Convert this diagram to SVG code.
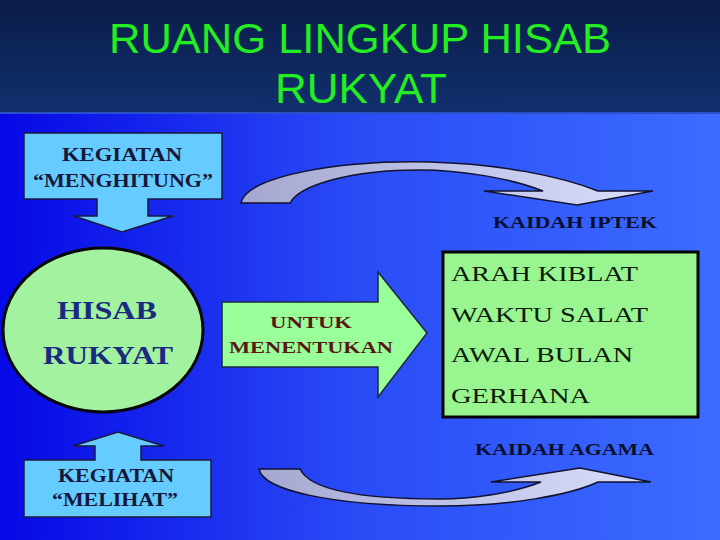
<svg xmlns="http://www.w3.org/2000/svg" width="720" height="540" viewBox="0 0 720 540">
<defs>
<linearGradient id="bg" x1="0" y1="0" x2="1" y2="0">
<stop offset="0" stop-color="#0608e6"/>
<stop offset="0.5" stop-color="#2a4cf6"/>
<stop offset="1" stop-color="#3c6cff"/>
</linearGradient>
<linearGradient id="head" x1="0" y1="0" x2="0" y2="1">
<stop offset="0" stop-color="#0b1c48"/>
<stop offset="1" stop-color="#11306e"/>
</linearGradient>
<linearGradient id="curve" x1="0" y1="0" x2="1" y2="0">
<stop offset="0" stop-color="#a4a8d0"/>
<stop offset="1" stop-color="#dadefc"/>
</linearGradient>
<style>
.lbl{font-family:"Liberation Serif","Times New Roman",serif;font-weight:bold;}
.box{fill:#66ccff;stroke:#1a1a40;stroke-width:1.5;}
.navy{fill:#16183a;}
.list{font-family:"Liberation Serif","Times New Roman",serif;font-size:22px;fill:#0c1a0c;}
.curve{fill:url(#curve);stroke:#10122e;stroke-width:1.5;}
</style>
</defs>
<rect x="0" y="0" width="720" height="540" fill="url(#bg)"/>
<rect x="0" y="0" width="720" height="112" fill="url(#head)"/>
<rect x="0" y="112" width="720" height="2" fill="#2a50c8"/>
<g id="title" font-family="'Liberation Sans',Arial,sans-serif" font-size="42" fill="#22ee22">
<text x="109" y="53" textLength="502" lengthAdjust="spacingAndGlyphs">RUANG LINGKUP HISAB</text>
<text x="275" y="103" textLength="172" lengthAdjust="spacingAndGlyphs">RUKYAT</text>
</g>
<g id="connectors">
<path class="curve" d="M241,203 C246,176 340,160 430,162 C500,164 560,176 598,191 L653,191 L577,205 L484,191 L543,191 C510,178 460,170 420,170 C350,170 300,185 290,203 Z"/>
<path class="curve" d="M259,469 C263,490 330,506 440,506 C510,506 570,495 598,482 L651,482 L580,468 L491,482 L541,482 C510,494 470,499 440,499 C360,499 310,490 300,469 Z"/>
</g>
<g id="kegiatan-menghitung">
<path class="box" d="M24,133 H222 V199 H148 V216 H173 L122,232 L74,216 H97 V199 H24 Z"/>
<text class="lbl navy" x="62" y="161" font-size="18" textLength="120" lengthAdjust="spacingAndGlyphs">KEGIATAN</text>
<text class="lbl navy" x="33" y="187" font-size="18" textLength="180" lengthAdjust="spacingAndGlyphs">“MENGHITUNG”</text>
</g>
<g id="hisab-rukyat">
<ellipse cx="103" cy="330" rx="100" ry="82" fill="#a2f2a0" stroke="#080808" stroke-width="3"/>
<text class="lbl" x="57" y="319" font-size="25" fill="#1a2a80" textLength="100" lengthAdjust="spacingAndGlyphs">HISAB</text>
<text class="lbl" x="43" y="364" font-size="25" fill="#1a2a80" textLength="130" lengthAdjust="spacingAndGlyphs">RUKYAT</text>
</g>
<g id="untuk-menentukan">
<path d="M222,302 H378 V272 L427,333 L378,397 V367 H222 Z" fill="#99ff99" stroke="#1a2a40" stroke-width="1.5"/>
<text class="lbl" x="270" y="328" font-size="16" fill="#5a1515" textLength="82" lengthAdjust="spacingAndGlyphs">UNTUK</text>
<text class="lbl" x="229" y="353" font-size="16" fill="#5a1515" textLength="164" lengthAdjust="spacingAndGlyphs">MENENTUKAN</text>
</g>
<g id="hasil">
<rect x="443" y="252" width="255" height="165" fill="#99f590" stroke="#050505" stroke-width="3"/>
<text class="list" x="451" y="281" textLength="187" lengthAdjust="spacingAndGlyphs">ARAH KIBLAT</text>
<text class="list" x="451" y="322" textLength="197" lengthAdjust="spacingAndGlyphs">WAKTU SALAT</text>
<text class="list" x="451" y="362" textLength="182" lengthAdjust="spacingAndGlyphs">AWAL BULAN</text>
<text class="list" x="451" y="403" textLength="139" lengthAdjust="spacingAndGlyphs">GERHANA</text>
</g>
<g id="kaidah-iptek">
<text class="lbl" x="493" y="228" font-size="16" fill="#0a0f30" textLength="164" lengthAdjust="spacingAndGlyphs">KAIDAH IPTEK</text>
</g>
<g id="kaidah-agama">
<text class="lbl" x="475" y="455" font-size="16" fill="#0a0f30" textLength="179" lengthAdjust="spacingAndGlyphs">KAIDAH AGAMA</text>
</g>
<g id="kegiatan-melihat">
<path class="box" d="M24,517 H211 V460 H141 V446 H164 L118,432 L73,446 H95 V460 H24 Z"/>
<text class="lbl navy" x="58" y="482" font-size="18" textLength="116" lengthAdjust="spacingAndGlyphs">KEGIATAN</text>
<text class="lbl navy" x="52" y="506" font-size="18" textLength="126" lengthAdjust="spacingAndGlyphs">“MELIHAT”</text>
</g>
</svg>
